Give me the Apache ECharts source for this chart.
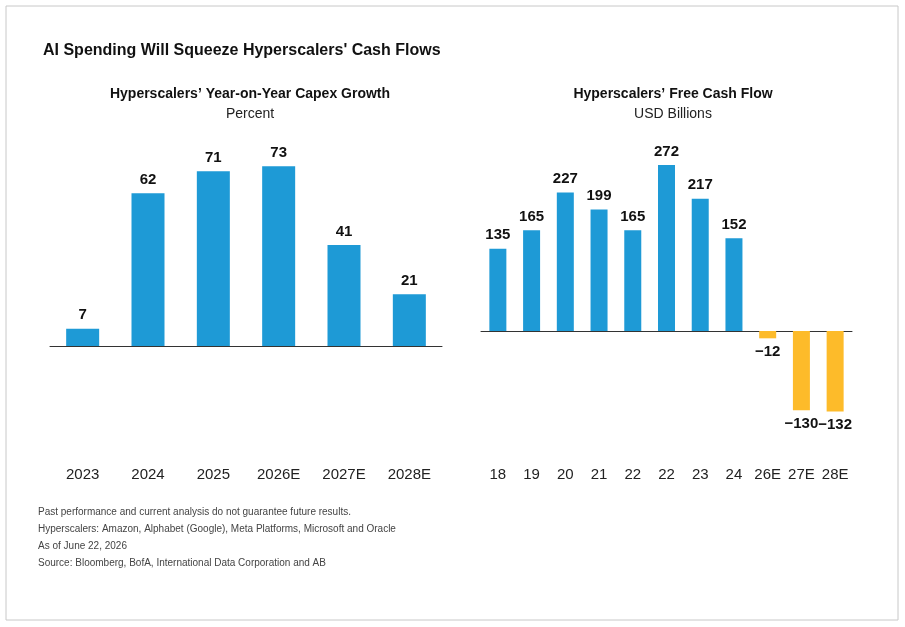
<!DOCTYPE html>
<html><head><meta charset="utf-8">
<script src="https://cdn.jsdelivr.net/npm/echarts@6/dist/echarts.min.js"></script>
<style>html,body{margin:0;background:#fff}#c{width:905px;height:627px}</style>
</head><body><div id="c"></div>
<script>
const capexYears = ["2023", "2024", "2025", "2026E", "2027E", "2028E"];
const capexGrowth = [7, 62, 71, 73, 41, 21];
const fcfYears = ["18", "19", "20", "21", "22", "22", "23", "24", "26E", "27E", "28E"];
const fcfValues = [135, 165, 227, 199, 165, 272, 217, 152, -12, -130, -132];
const notes = [
  "Past performance and current analysis do not guarantee future results.",
  "Hyperscalers: Amazon, Alphabet (Google), Meta Platforms, Microsoft and Oracle",
  "As of June 22, 2026",
  "Source: Bloomberg, BofA, International Data Corporation and AB"
];

const font = "Liberation Sans, Arial, sans-serif";
const blue = "#1e9ad6", gold = "#fdbb2a";
const chart = echarts.init(document.getElementById("c"));

const labelStyle = { show: true, position: "top", fontFamily: font, fontWeight: "bold", fontSize: 15, color: "#111", distance: 6 };

chart.setOption({
  animation: false,
  title: [
    { text: "AI Spending Will Squeeze Hyperscalers' Cash Flows", left: 38, top: 38, textStyle: { fontFamily: font, fontSize: 16, fontWeight: "bold", color: "#111" } },
    { text: "Hyperscalers’ Year-on-Year Capex Growth", subtext: "Percent", left: 245, textAlign: "center", top: 82, itemGap: 6,
      textStyle: { fontFamily: font, fontSize: 14, fontWeight: "bold", color: "#111" }, subtextStyle: { fontFamily: font, fontSize: 14, color: "#222" } },
    { text: "Hyperscalers’ Free Cash Flow", subtext: "USD Billions", left: 668, textAlign: "center", top: 82, itemGap: 6,
      textStyle: { fontFamily: font, fontSize: 14, fontWeight: "bold", color: "#111" }, subtextStyle: { fontFamily: font, fontSize: 14, color: "#222" } }
  ],
  grid: [
    { left: 50, width: 392, top: 149, height: 197 },
    { left: 481, width: 371, top: 148, height: 274.5 }
  ],
  xAxis: [
    { type: "category", gridIndex: 0, data: capexYears, axisTick: { show: false },
      axisLine: { lineStyle: { color: "#333", width: 1 } },
      axisLabel: { margin: 121, fontFamily: font, fontSize: 15, color: "#222" } },
    { type: "category", gridIndex: 1, data: fcfYears, axisTick: { show: false },
      axisLine: { onZeroAxisIndex: 1, lineStyle: { color: "#333", width: 1 } },
      axisLabel: { margin: 45, fontFamily: font, fontSize: 15, color: "#222", interval: 0 } }
  ],
  yAxis: [
    { type: "value", gridIndex: 0, min: 0, max: 80, show: false },
    { type: "value", gridIndex: 1, min: -150, max: 300, show: false }
  ],
  series: [
    { type: "bar", xAxisIndex: 0, yAxisIndex: 0, data: capexGrowth, barWidth: 33, itemStyle: { color: blue }, label: labelStyle },
    { type: "bar", xAxisIndex: 1, yAxisIndex: 1, barWidth: 17,
      data: fcfValues.map(v => ({ value: v, itemStyle: { color: v < 0 ? gold : blue },
        label: v < 0 ? { position: "bottom", formatter: "−" + Math.abs(v) } : {} })),
      label: labelStyle }
  ],
  graphic: [
    { type: "rect", shape: { x: 6, y: 6, width: 892, height: 614 }, style: { fill: "none", stroke: "#c8c8c8", lineWidth: 1 } },
    ...notes.map((t, i) => ({ type: "text", left: 38, top: 507 + i * 17, style: { text: t, fontFamily: font, fontSize: 10, fill: "#444" } }))
  ]
});
</script></body></html>
